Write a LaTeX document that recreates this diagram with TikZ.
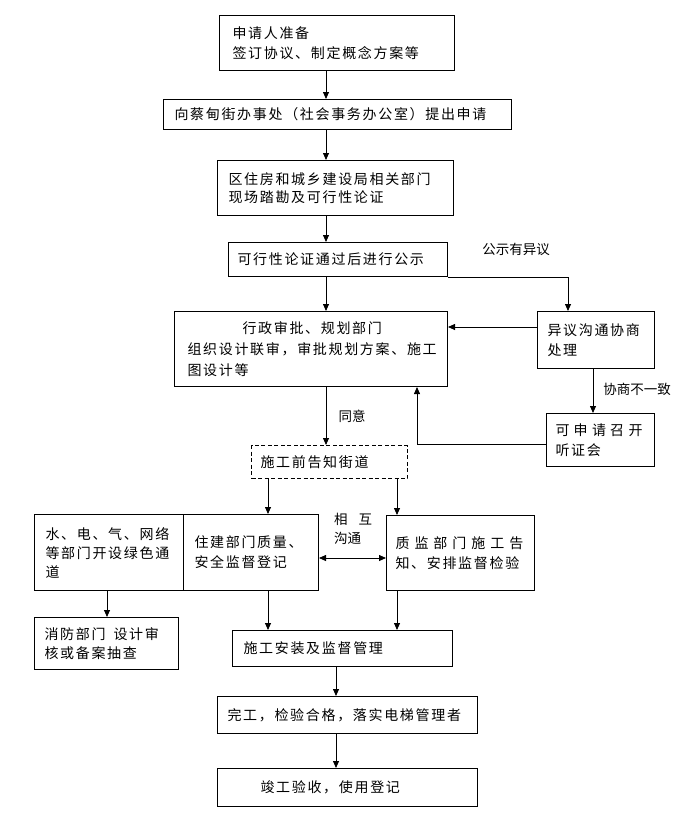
\documentclass[tikz,border=0pt]{standalone}
\usepackage{fontspec}
\setmainfont{Noto Sans CJK SC}[LetterSpace=12]
\newfontfamily\lblfont{Noto Sans CJK SC}
\usetikzlibrary{arrows.meta}
\tikzset{
  bx/.style={draw, line width=1pt, rectangle, anchor=north west, align=left, inner ysep=0pt},
  dbx/.style={bx, dash pattern=on 4pt off 2.5pt},
  sz/.style n args={4}{minimum width=#1pt, minimum height=#2pt, inner xsep=#3pt, text width=#4pt},
  arr/.style={draw, line width=0.8pt, -{Triangle[length=7pt,width=6pt]}},
  darr/.style={draw, line width=0.8pt, {Triangle[length=7pt,width=6pt]}-{Triangle[length=7pt,width=6pt]}},
  lbl/.style={font=\lblfont\fontsize{13.5}{19}\selectfont, inner sep=0pt, align=left}
}
\begin{document}
\begin{tikzpicture}[x=1pt, y=-1pt, font=\fontsize{14}{20}\selectfont]
\useasboundingbox (0,0) rectangle (694,828);
% boxes
\node[bx, sz={235}{55}{13}{209}] (b1) at (219,15) {申请人准备\\签订协议、制定概念方案等};
\node[bx, sz={348}{30}{11}{326}] (b2) at (163,99) {向蔡甸街办事处（社会事务办公室）提出申请};
\node[bx, sz={236}{55}{11}{214}, font=\fontsize{14}{18}\selectfont] (b3) at (217,160) {区住房和城乡建设局相关部门\\现场踏勘及可行性论证};
\node[bx, sz={219}{34}{9}{201}] (b4) at (228,242) {可行性论证通过后进行公示};
\node[bx, sz={273}{75}{13}{247}, font=\fontsize{14}{21}\selectfont] (b5) at (174,311) {\hspace*{55pt}行政审批、规划部门\\组织设计联审，审批规划方案、施工\\图设计等};
\node[bx, sz={117}{57}{10}{97}] (b6) at (537,311) {异议沟通协商\\处理};
\node[bx, sz={108}{53}{9}{90}] (b7) at (546,413) {\makebox[87pt][s]{可\hfill 申\hfill 请\hfill 召\hfill 开}\\听证会};
\node[dbx, sz={156}{33}{9}{138}] (bd) at (251,445) {施工前告知街道};
\node[bx, sz={149}{76}{11}{127}, font=\fontsize{14}{19}\selectfont] (bw) at (34,514) {水、电、气、网络\\等部门开设绿色通\\道};
\node[bx, sz={135}{76}{11}{113}] (b8) at (183,514) {住建部门质量、\\安全监督登记};
\node[bx, sz={148}{75}{9}{130}] (b9) at (386,515) {\makebox[128pt][s]{质\hfill 监\hfill 部\hfill 门\hfill 施\hfill 工\hfill 告}\\知、安排监督检验};
\node[bx, sz={144}{52}{10}{124}, font=\fontsize{14}{19}\selectfont] (fire) at (34,617) {消防部门\hspace{8pt}设计审\\核或备案抽查};
\node[bx, sz={220}{36}{11}{198}] (b10) at (232,630) {施工安装及监督管理};
\node[bx, sz={260}{37}{10}{240}] (b11) at (217,696) {完工，检验合格，落实电梯管理者};
\node[bx, sz={260}{38}{43}{174}] (b12) at (217,768) {竣工验收，使用登记};
% labels
\node[lbl] (l1) at (516,249) {公示有异议};
\node[lbl] (l2) at (352,416) {同意};
\node[lbl] (l3) at (637,389) {协商不一致};
\node[lbl, anchor=north west] (l4) at (334,513) {相\hspace{11pt}互\\沟通};
% guide coordinates
\coordinate (cA) at (326,0);
\coordinate (cB) at (268,0);
\coordinate (cC) at (397,0);
\coordinate (cD) at (336,0);
\coordinate (cE) at (568,0);
\coordinate (cF) at (593,0);
\coordinate (cG) at (417,0);
\coordinate (cH) at (107,0);
\coordinate (rA) at (0,327);
\coordinate (rB) at (0,444);
\coordinate (rC) at (0,558);
% connectors
\draw[arr] (b1.south -| cA) -- (b2.north -| cA);
\draw[arr] (b2.south -| cA) -- (b3.north -| cA);
\draw[arr] (b3.south -| cA) -- (b4.north -| cA);
\draw[arr] (b4.south -| cA) -- (b5.north -| cA);
\draw[arr] (b5.south -| cA) -- (bd.north -| cA);
\draw[arr] (b4.south east) -| (b6.north -| cE);
\draw[arr] (b6.west |- rA) -- (b5.east |- rA);
\draw[arr] (b6.south -| cF) -- (b7.north -| cF);
\draw[arr] (b7.west |- rB) -| (b5.south -| cG);
\draw[arr] (bd.south -| cB) -- (b8.north -| cB);
\draw[arr] (bd.south -| cC) -- (b9.north -| cC);
\draw[darr] (b8.east |- rC) -- (b9.west |- rC);
\draw[arr] (bw.south -| cH) -- (fire.north -| cH);
\draw[arr] (b8.south -| cB) -- (b10.north -| cB);
\draw[arr] (b9.south -| cC) -- (b10.north -| cC);
\draw[arr] (b10.south -| cD) -- (b11.north -| cD);
\draw[arr] (b11.south -| cD) -- (b12.north -| cD);
\end{tikzpicture}
\end{document}
